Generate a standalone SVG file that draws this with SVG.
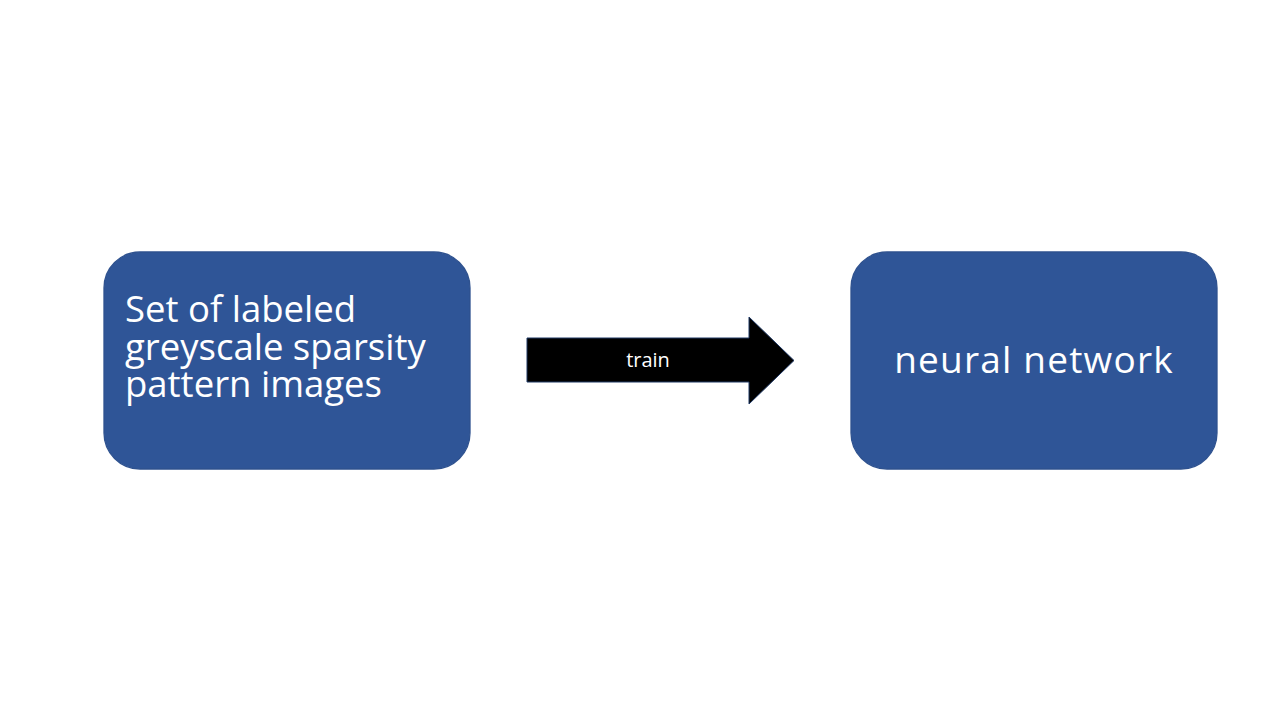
<svg xmlns="http://www.w3.org/2000/svg" width="1280" height="720" viewBox="0 0 1280 720">
<style>
.box{fill:#2F5597;stroke:#2F528F;stroke-width:1.3}
.lbl{font-family:"Open Sans","Liberation Sans",sans-serif;fill:#FFFFFF;font-size:36.5px}
.lbl2{font-family:"Open Sans","Liberation Sans",sans-serif;fill:#FFFFFF;font-size:37px;letter-spacing:1.2px}
.small{font-family:"Open Sans","Liberation Sans",sans-serif;fill:#FFFFFF;font-size:20px}
</style>
<rect width="1280" height="720" fill="#FFFFFF"/>
<g id="connectors">
<g id="arrow-train">
<polygon points="527,338 749,338 749,317 794,360.5 749,404 749,382 527,382" fill="#000000" stroke="#1F3864" stroke-width="1"/>
<text class="small" x="648" y="367" text-anchor="middle">train</text>
</g>
</g>
<g id="node-images">
<rect class="box" x="104" y="252" width="366" height="217" rx="36" ry="36"/>
<text class="lbl" x="125" y="322">Set of labeled<tspan x="125" y="360">greyscale sparsity</tspan><tspan x="125" y="397">pattern images</tspan></text>
</g>
<g id="node-network">
<rect class="box" x="851" y="252" width="366" height="217" rx="36" ry="36"/>
<text class="lbl2" x="1034" y="373" text-anchor="middle">neural network</text>
</g>
</svg>
